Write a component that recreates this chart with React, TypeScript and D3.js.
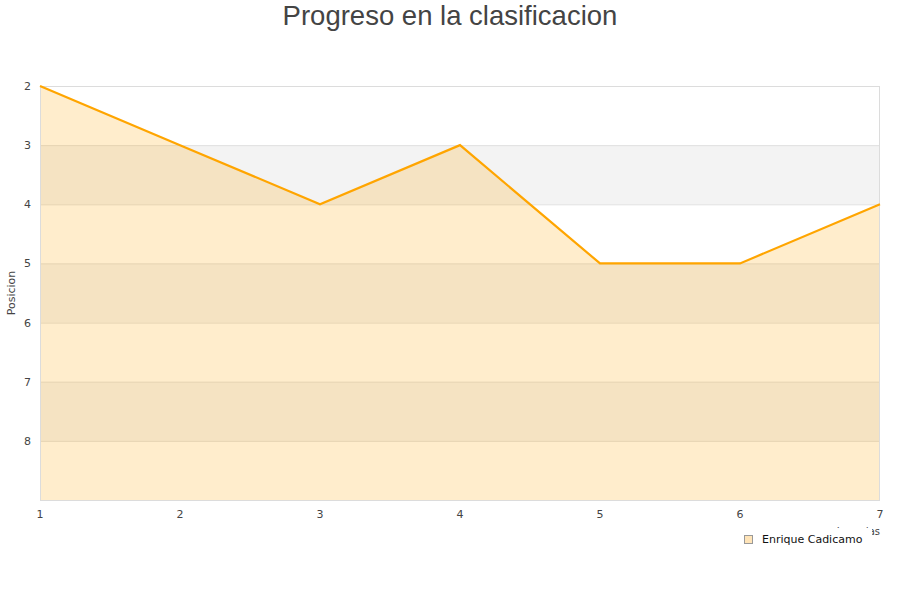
import { useEffect, useRef } from 'react';
import * as d3 from 'd3';

const jornadas = [1, 2, 3, 4, 5, 6, 7];
const posiciones = [2, 3, 4, 3, 5, 5, 4];
const yTicks = [2, 3, 4, 5, 6, 7, 8];
const serieNombre = 'Enrique Cadicamo';

function App() {
  const ref = useRef(null);

  const svgWidth = 900;
  const svgHeight = 600;

  useEffect(() => {
    const left = 40;
    const right = 880;
    const top = 86;
    const bottom = 500;

    const svg = d3.select(ref.current);
    svg.selectAll('*').remove();

    const x = d3.scaleLinear().domain([1, 7]).range([left, right]);
    const y = d3.scaleLinear().domain([2, 9]).range([top, bottom]);

    // Alternating bands
    svg
      .append('g')
      .selectAll()
      .data(yTicks.filter((t) => t % 2 === 1))
      .join('rect')
      .attr('x', left)
      .attr('y', (d) => y(d))
      .attr('width', right - left)
      .attr('height', (d) => y(d + 1) - y(d))
      .attr('fill', '#f3f3f3');

    // Grid lines
    svg
      .append('g')
      .selectAll()
      .data(yTicks.slice(1))
      .join('line')
      .attr('x1', left)
      .attr('x2', right)
      .attr('y1', (d) => y(d) + 0.5)
      .attr('y2', (d) => y(d) + 0.5)
      .attr('stroke', '#e0e0e0');

    const points = jornadas.map((j, i) => [j, posiciones[i]] as [number, number]);

    // Area
    const area = d3
      .area<[number, number]>()
      .x((d) => x(d[0]))
      .y0(y(9))
      .y1((d) => y(d[1]));
    svg
      .append('path')
      .datum(points)
      .attr('d', area)
      .attr('fill', 'rgba(255,165,0,0.2)');

    // Plot border
    svg
      .append('rect')
      .attr('x', left + 0.5)
      .attr('y', top + 0.5)
      .attr('width', right - left - 1)
      .attr('height', bottom - top)
      .attr('fill', 'none')
      .attr('stroke', '#dcdcdc');

    // Line
    const line = d3
      .line<[number, number]>()
      .x((d) => x(d[0]))
      .y((d) => y(d[1]));
    svg
      .append('path')
      .datum(points)
      .attr('d', line)
      .attr('fill', 'none')
      .attr('stroke', '#ffa500')
      .attr('stroke-width', 2.2);

    // Y axis labels
    svg
      .append('g')
      .selectAll()
      .data(yTicks)
      .join('text')
      .attr('x', 31)
      .attr('y', (d) => y(d) + 4)
      .attr('text-anchor', 'end')
      .attr('font-family', 'DejaVu Sans')
      .attr('font-size', 11)
      .attr('fill', '#444')
      .text((d) => d);

    // X axis labels
    svg
      .append('g')
      .selectAll()
      .data(jornadas)
      .join('text')
      .attr('x', (d) => x(d))
      .attr('y', 518)
      .attr('text-anchor', 'middle')
      .attr('font-family', 'DejaVu Sans')
      .attr('font-size', 11)
      .attr('fill', '#444')
      .text((d) => d);

    // Y axis title
    svg
      .append('text')
      .attr('transform', `translate(15, ${(top + bottom) / 2}) rotate(-90)`)
      .attr('text-anchor', 'middle')
      .attr('font-family', 'DejaVu Sans')
      .attr('font-size', 11)
      .attr('fill', '#444')
      .text('Posicion');

    // X axis title (mostly hidden behind the legend)
    svg
      .append('text')
      .attr('x', 880)
      .attr('y', 535)
      .attr('text-anchor', 'end')
      .attr('font-family', 'DejaVu Sans')
      .attr('font-size', 10)
      .attr('fill', '#444')
      .text('Jornadas');

    // Legend
    const legend = svg.append('g');
    legend
      .append('rect')
      .attr('x', 736)
      .attr('y', 528)
      .attr('width', 136)
      .attr('height', 22)
      .attr('fill', '#fff');
    legend
      .append('rect')
      .attr('x', 744.5)
      .attr('y', 535.5)
      .attr('width', 8)
      .attr('height', 8)
      .attr('fill', '#ffe4b8')
      .attr('stroke', '#999');
    legend
      .append('text')
      .attr('x', 762)
      .attr('y', 543)
      .attr('font-family', 'DejaVu Sans')
      .attr('font-size', 11)
      .attr('fill', '#111')
      .text(serieNombre);

    // Title
    svg
      .append('text')
      .attr('x', svgWidth / 2)
      .attr('y', 25)
      .attr('text-anchor', 'middle')
      .attr('font-family', 'Liberation Sans')
      .attr('font-size', 27.5)
      .attr('fill', '#444')
      .text('Progreso en la clasificacion');
  }, []);

  return (
    <svg
      ref={ref}
      width={svgWidth}
      height={svgHeight}
      style={{ position: 'absolute', left: 0, top: 0 }}
    ></svg>
  );
}

export default App;
